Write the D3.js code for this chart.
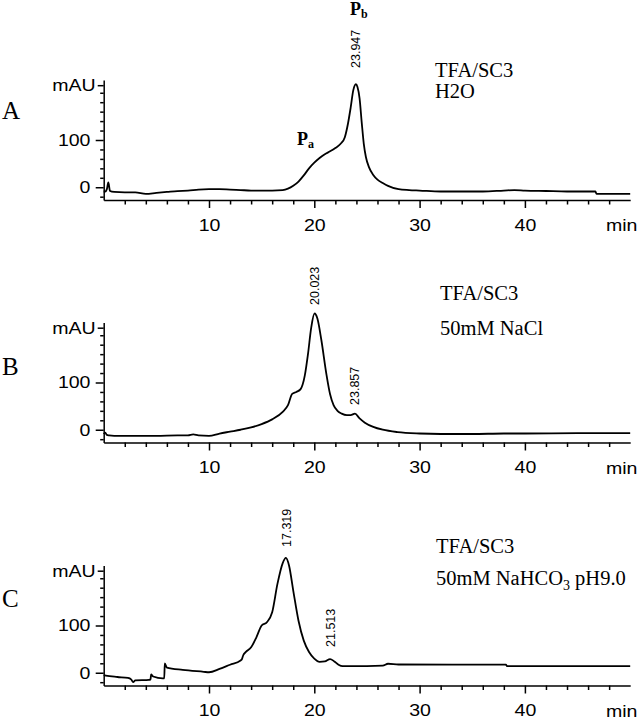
<!DOCTYPE html>
<html><head><meta charset="utf-8">
<script src="https://cdn.jsdelivr.net/npm/d3@7"></script>
<style>body{margin:0;background:#fff}svg{display:block}</style>
</head><body><svg id="c" width="644" height="719"></svg>
<script>
// ---- data (retention time in min, absorbance in mAU) ----
const timeA = [0,0.15,0.3,0.44,0.6,1,2,3,4,5,6,7,8,9,10,11,12,13,14,15,16,17,17.5,18,18.5,19,19.5,20,20.5,21,21.5,22,22.5,22.9,23.2,23.45,23.7,23.95,24.1,24.3,24.5,24.7,24.9,25.2,25.6,26,26.5,27,28,29,30,32,34,36,38,39,40,42,44,46,46.7,46.8,48,50];
const mauA  = [-9,-9,-4,10,-8,-10,-11,-11,-14,-12,-10,-8,-7,-5,-4,-4,-5,-6,-7,-7,-7,-6,-3,3,12,25,40,52,62,70,76,83,92,106,135,168,205,218,212,188,138,92,64,42,26,16,9,3,-4,-6,-7,-9,-9,-9,-7,-6,-7,-8,-9,-9,-9,-14,-14,-14];

const timeB = [0,0.15,0.3,0.5,1,3,5,7,8,8.5,9,10,11,12,13,14,15,16,17,17.5,17.9,18.3,18.7,19.1,19.4,19.7,20.02,20.3,20.67,21.14,21.5,21.83,22.2,22.6,23.1,23.45,23.86,24.3,24.8,25.6,26.5,27.9,30,32,35,38,40,45,50];
const mauB  = [-9,-6,-11,-12,-13,-13,-13,-12,-12,-10,-12,-13,-8,-4,0,5,12,22,38,52,76,80,86,115,160,215,246,235,190,119,75,52,40,34,31,31,34,24,15,6,0,-5,-8,-9,-9,-8,-8,-7,-7];

const timeC = [0,0.2,1.3,2.3,2.6,2.8,3.0,4.3,4.45,4.5,4.7,5.6,5.75,5.8,6.0,7.5,9.5,10,11,12,13,13.15,13.25,13.5,14,14.5,15,15.5,16,16.5,17,17.3,17.6,18,18.5,19,19.5,20,20.5,21,21.5,21.9,22.3,22.7,25,26.5,27,28,38.2,38.3,50];
const mauC  = [-5,-6,-9,-11,-14,-20,-16,-15,-14,-3.5,-8,-12,-12,20,11,6,2,1,8,17,26,30,37,44,54,75,100,107,128,188,232,243,227,174,110,68,44,30,23,24,29,24,17,14,14,15,19,17.5,17,14,14];

const xMajorTicks = [10,20,30,40];
const xMinorTicks = [2,4,6,8,12,14,16,18,22,24,26,28,32,34,36,38,42,44,46,48];
const yMajorTicks = [0,100];
const yMinorTicks = [-20,20,40,60,80,120,140,160,180,200];
const yUnitLabel = "mAU";
const xUnitLabel = "min";

const panels = [
  {id:"A", time: timeA, mau: mauA, base: 200, letterY: 119,
   cond: ["TFA/SC3","H2O"], condX: 435, condY: [77, 98],
   peakLabels: [{t:23.947, txt:"23.947", y:68}]},
  {id:"B", time: timeB, mau: mauB, base: 442.5, letterY: 375,
   cond: ["TFA/SC3","50mM NaCl"], condX: 440, condY: [300, 335],
   peakLabels: [{t:20.023, txt:"20.023", y:305},{t:23.857, txt:"23.857", y:405}]},
  {id:"C", time: timeC, mau: mauC, base: 685.5, letterY: 607,
   cond: ["TFA/SC3","NAHCO"], condX: 436, condY: [553, 585],
   peakLabels: [{t:17.319, txt:"17.319", y:547},{t:21.513, txt:"21.513", y:647}]}
];

const svg = d3.select("#c");
const SX = 1.15;
const FS = 17;
const sans = "'Liberation Sans', Arial, sans-serif";
const serif = "'Liberation Serif', 'Times New Roman', serif";

panels.forEach(p => {
  const x = d3.scaleLinear().domain([0,50]).range([103.7, 630.2]);
  const y = d3.scaleLinear().domain([-27,227]).range([p.base, p.base-120]);
  const g = svg.append("g");

  const ya = g.append("g").attr("transform",`translate(${x(0)},0)`)
    .call(d3.axisLeft(y).tickValues(yMajorTicks).tickSize(8).tickSizeOuter(0));
  const ym = g.append("g").attr("transform",`translate(${x(0)},0)`)
    .call(d3.axisLeft(y).tickValues(yMinorTicks).tickSize(3.5).tickFormat(""));
  ym.select(".domain").remove();
  const yu = g.append("g").attr("transform",`translate(${x(0)},0)`)
    .call(d3.axisLeft(y).tickValues([216]).tickSize(6).tickFormat(()=>yUnitLabel));
  yu.select(".domain").remove();

  const xa = g.append("g").attr("transform",`translate(0,${p.base})`)
    .call(d3.axisBottom(x).tickValues(xMajorTicks).tickSize(8).tickSizeOuter(0));
  const xm = g.append("g").attr("transform",`translate(0,${p.base})`)
    .call(d3.axisBottom(x).tickValues(xMinorTicks).tickSize(4.5).tickFormat(""));
  xm.select(".domain").remove();

  [ya,ym,yu,xa,xm].forEach(a=>{
    a.attr("color","#000");
    a.selectAll("path,line").attr("stroke-width",1.5);
    a.selectAll("text").attr("font-family",sans).attr("font-size",FS)
      .attr("fill","#000").attr("transform",`scale(${SX},1)`);
  });
  ya.selectAll("text").attr("x",-11.5);
  yu.selectAll("text").attr("x",-7);
  xa.selectAll("text").attr("y",31).attr("dy",0);

  g.append("text").attr("transform",`translate(606,${p.base+31}) scale(${SX},1)`)
    .attr("font-family",sans).attr("font-size",FS).attr("fill","#000").text(xUnitLabel);

  const pts = p.time.map((t,i)=>[t,p.mau[i]]);
  g.append("path").datum(pts)
    .attr("fill","none").attr("stroke","#000").attr("stroke-width",1.8)
    .attr("stroke-linejoin","round")
    .attr("d", d3.line().x(d=>x(d[0])).y(d=>y(d[1])).curve(d3.curveMonotoneX));

  p.peakLabels.forEach(l=>{
    g.append("text").attr("transform",`translate(${x(l.t)+4.5},${l.y}) rotate(-90)`)
      .attr("font-family",sans).attr("font-size",12.5).attr("fill","#000").text(l.txt);
  });

  g.append("text").attr("x",2).attr("y",p.letterY).attr("font-family",serif)
    .attr("font-size",25).attr("fill","#000").text(p.id);

  g.append("text").attr("x",p.condX).attr("y",p.condY[0]).attr("font-family",serif)
    .attr("font-size",20.5).attr("fill","#000").text(p.cond[0]);
  const t2 = g.append("text").attr("x",p.condX).attr("y",p.condY[1]).attr("font-family",serif)
    .attr("font-size",20.5).attr("fill","#000");
  if (p.id === "C") {
    t2.append("tspan").text("50mM NaHCO");
    t2.append("tspan").attr("font-size",14).attr("dy",5).text("3");
    t2.append("tspan").attr("dy",-5).text(" pH9.0");
  } else {
    t2.text(p.cond[1]);
  }
});

function peakName(x0, y0, sub) {
  const t = svg.append("text").attr("x",x0).attr("y",y0).attr("font-family",serif)
    .attr("font-weight","bold").attr("font-size",18).attr("fill","#000");
  t.append("tspan").text("P");
  t.append("tspan").attr("font-size",12).attr("dy",3).text(sub);
}
peakName(350, 15, "b");
peakName(297, 145, "a");
</script>
</body></html>
